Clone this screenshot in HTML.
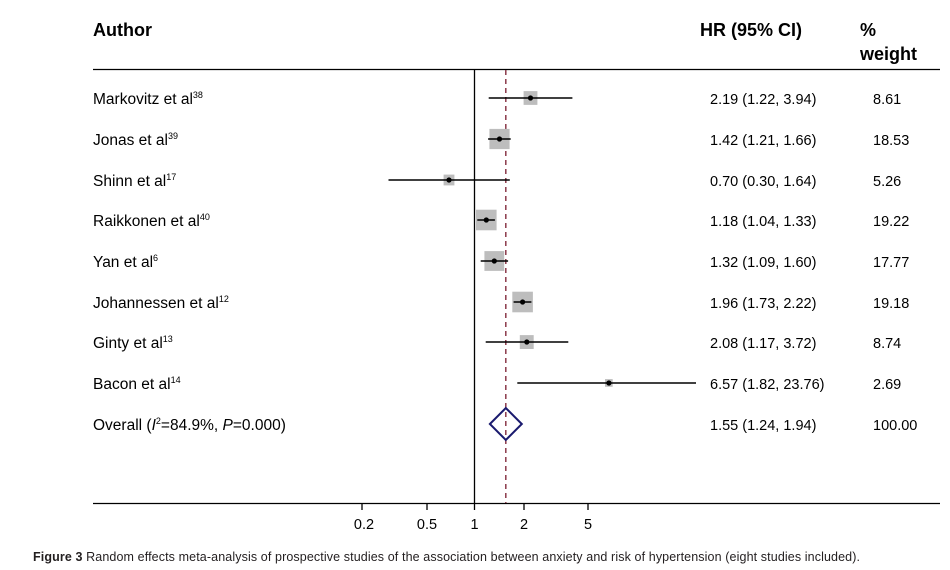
<!DOCTYPE html>
<html><head><meta charset="utf-8"><style>
body{margin:0;background:#fff;}
svg{display:block;font-family:"Liberation Sans",Arial,sans-serif;}
</style></head><body>
<svg width="950" height="570" viewBox="0 0 950 570" xmlns="http://www.w3.org/2000/svg">
<g font-weight="bold" font-size="18" fill="#000">
<text x="93" y="36">Author</text>
<text x="700" y="36">HR (95% CI)</text>
<text x="860" y="36">%</text>
<text x="860" y="60">weight</text>
</g>
<line x1="93" y1="69.5" x2="940" y2="69.5" stroke="#000" stroke-width="1.3"/>
<line x1="93" y1="503.5" x2="940" y2="503.5" stroke="#000" stroke-width="1.3"/>
<line x1="474.5" y1="69" x2="474.5" y2="504" stroke="#000" stroke-width="1.3"/>
<line x1="505.8" y1="70" x2="505.8" y2="503" stroke="#8b3a4a" stroke-width="1.5" stroke-dasharray="5,4"/>
<g stroke="#000" stroke-width="1.3">
<line x1="362" y1="504" x2="362" y2="510"/><line x1="427" y1="504" x2="427" y2="510"/><line x1="474.5" y1="504" x2="474.5" y2="510"/><line x1="524" y1="504" x2="524" y2="510"/><line x1="588" y1="504" x2="588" y2="510"/>
</g>
<g font-size="14.5" text-anchor="middle" fill="#000">
<text x="364" y="529">0.2</text><text x="427" y="529">0.5</text><text x="474.5" y="529">1</text><text x="524" y="529">2</text><text x="588" y="529">5</text>
</g>
<g fill="#bdbdbd">
<rect x="523.6" y="91.1" width="13.8" height="13.8"/>
<rect x="489.4" y="128.9" width="20.2" height="20.2"/>
<rect x="443.6" y="174.6" width="10.8" height="10.8"/>
<rect x="476" y="209.7" width="20.6" height="20.6"/>
<rect x="484.4" y="251.1" width="19.8" height="19.8"/>
<rect x="512.3" y="291.7" width="20.6" height="20.6"/>
<rect x="519.8" y="335.1" width="13.9" height="13.9"/>
<rect x="605" y="379.1" width="7.7" height="7.7"/>
</g>
<g stroke="#000" stroke-width="1.6">
<line x1="488.7" y1="98" x2="572.4" y2="98"/>
<line x1="488.1" y1="139" x2="510.7" y2="139"/>
<line x1="388.5" y1="180" x2="509.8" y2="180"/>
<line x1="477.3" y1="220" x2="494.9" y2="220"/>
<line x1="480.7" y1="261" x2="508.1" y2="261"/>
<line x1="513.6" y1="302" x2="531.4" y2="302"/>
<line x1="485.7" y1="342" x2="568.3" y2="342"/>
<line x1="517.3" y1="383" x2="696" y2="383"/>
</g>
<g fill="#000">
<circle cx="530.5" cy="98" r="2.6"/><circle cx="499.5" cy="139" r="2.6"/><circle cx="449" cy="180" r="2.6"/><circle cx="486.3" cy="220" r="2.6"/><circle cx="494.3" cy="261" r="2.6"/><circle cx="522.6" cy="302" r="2.6"/><circle cx="526.8" cy="342" r="2.6"/><circle cx="608.9" cy="383" r="2.6"/>
</g>
<polygon points="489.9,424 505.8,408 521.8,424 505.8,440" fill="none" stroke="#1a1a6e" stroke-width="2"/>
<g font-size="15.5" fill="#000">
<text x="93" y="104">Markovitz et al<tspan font-size="9" dy="-6">38</tspan></text>
<text x="93" y="145">Jonas et al<tspan font-size="9" dy="-6">39</tspan></text>
<text x="93" y="186">Shinn et al<tspan font-size="9" dy="-6">17</tspan></text>
<text x="93" y="226">Raikkonen et al<tspan font-size="9" dy="-6">40</tspan></text>
<text x="93" y="267">Yan et al<tspan font-size="9" dy="-6">6</tspan></text>
<text x="93" y="308">Johannessen et al<tspan font-size="9" dy="-6">12</tspan></text>
<text x="93" y="348">Ginty et al<tspan font-size="9" dy="-6">13</tspan></text>
<text x="93" y="389">Bacon et al<tspan font-size="9" dy="-6">14</tspan></text>
<text x="93" y="430">Overall (<tspan font-style="italic">I</tspan><tspan font-size="9" dy="-6">2</tspan><tspan dy="6">=84.9%, </tspan><tspan font-style="italic">P</tspan>=0.000)</text>
</g>
<g font-size="14.5" fill="#000">
<text x="710" y="104">2.19 (1.22, 3.94)</text><text x="873" y="104">8.61</text>
<text x="710" y="145">1.42 (1.21, 1.66)</text><text x="873" y="145">18.53</text>
<text x="710" y="186">0.70 (0.30, 1.64)</text><text x="873" y="186">5.26</text>
<text x="710" y="226">1.18 (1.04, 1.33)</text><text x="873" y="226">19.22</text>
<text x="710" y="267">1.32 (1.09, 1.60)</text><text x="873" y="267">17.77</text>
<text x="710" y="308">1.96 (1.73, 2.22)</text><text x="873" y="308">19.18</text>
<text x="710" y="348">2.08 (1.17, 3.72)</text><text x="873" y="348">8.74</text>
<text x="710" y="389">6.57 (1.82, 23.76)</text><text x="873" y="389">2.69</text>
<text x="710" y="430">1.55 (1.24, 1.94)</text><text x="873" y="430">100.00</text>
</g>
<text x="33" y="561" font-size="12.5" fill="#231f20" textLength="827" lengthAdjust="spacing"><tspan font-weight="bold">Figure 3</tspan> Random effects meta-analysis of prospective studies of the association between anxiety and risk of hypertension (eight studies included).</text>
</svg>
</body></html>
